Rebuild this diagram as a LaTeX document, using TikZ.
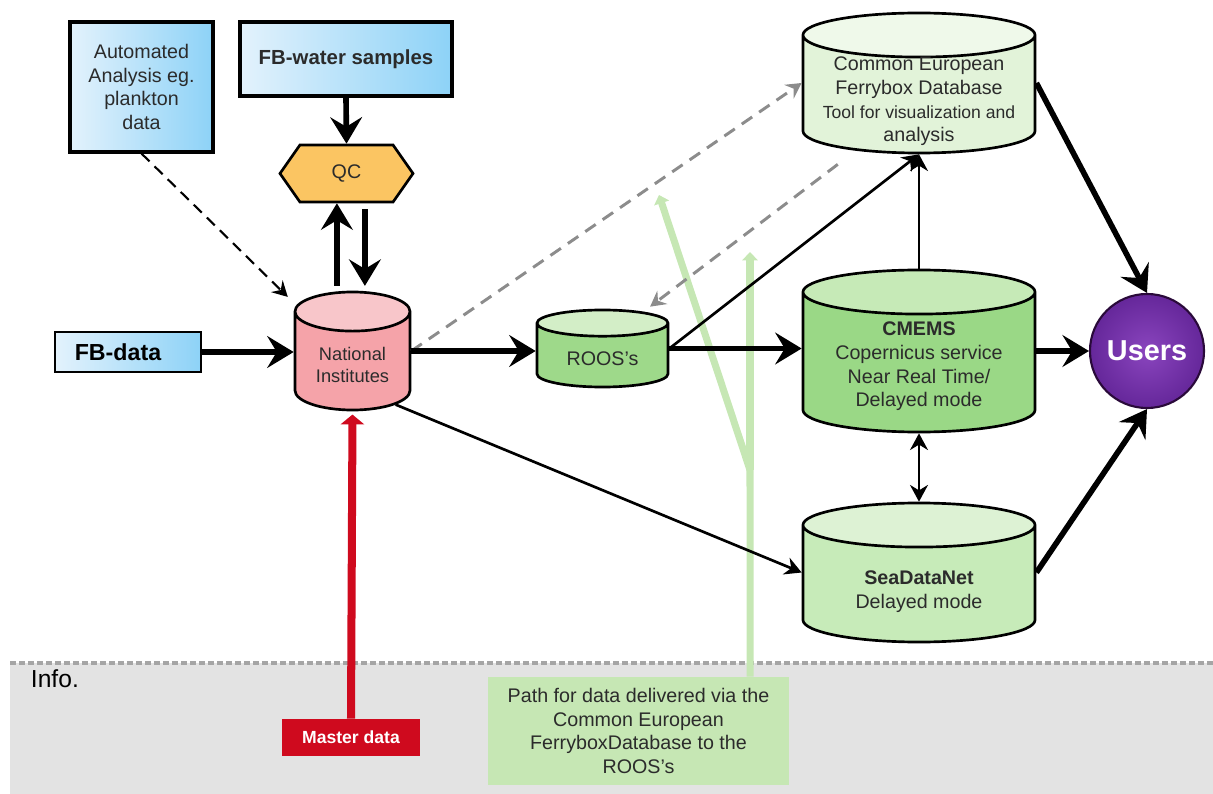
\documentclass[tikz,border=0pt]{standalone}
\usepackage{fontspec}
\setmainfont{Liberation Sans}
\usetikzlibrary{arrows.meta, positioning, shapes.geometric, shapes.symbols}

\definecolor{bluelight}{HTML}{E3F2FC}
\definecolor{bluedark}{HTML}{8DD2F7}
\definecolor{txtgray}{HTML}{2B2B2B}
\definecolor{qcorange}{HTML}{FBC562}
\definecolor{natpink}{HTML}{F5A3A9}
\definecolor{natpinktop}{HTML}{F8C6CA}
\definecolor{roosgreen}{HTML}{9ED98A}
\definecolor{roostop}{HTML}{D3EEC7}
\definecolor{cmemsgreen}{HTML}{9AD886}
\definecolor{cmemstop}{HTML}{C6EAB7}
\definecolor{commongreen}{HTML}{E2F3D9}
\definecolor{commontop}{HTML}{EFF9EA}
\definecolor{sdngreen}{HTML}{C7EBB9}
\definecolor{sdntop}{HTML}{DDF2D4}
\definecolor{userdark}{HTML}{65279A}
\definecolor{userlight}{HTML}{8A45BE}
\definecolor{userborder}{HTML}{2A0A3A}
\definecolor{mastred}{HTML}{CF0A1E}
\definecolor{pathgreen}{HTML}{C6E7B4}
\definecolor{bandgray}{HTML}{E3E3E3}
\definecolor{dotgray}{HTML}{A5A5A5}
\definecolor{dashgray}{HTML}{8C8C8C}

\tikzset{
  fbbox/.style={draw=black, line width=2.2pt, left color=bluelight, right color=bluedark,
    align=center, text=txtgray, inner sep=0pt},
  base/.style={cylinder, shape border rotate=90, draw=black, line width=1.9pt,
    cylinder uses custom fill, anchor=shape center, inner sep=0pt},
  cyltext/.style={align=center, text=txtgray, inner sep=0pt,
    font=\fontsize{14}{16.8}\selectfont},
  bigarrow/.style={line width=4pt, -{Stealth[length=19pt, width=23pt, inset=7pt, line width=0pt]}},
  thinarrow/.style={line width=1.9pt, -{Stealth[length=12pt, width=13pt, inset=4pt, line width=0pt]}},
  thinboth/.style={line width=1.9pt, {Stealth[length=12pt, width=13pt, inset=4pt, line width=0pt]}-{Stealth[length=12pt, width=13pt, inset=4pt, line width=0pt]}},
  greyarrow/.style={draw=dashgray, line width=2.1pt, dash pattern=on 9pt off 6pt,
    -{Stealth[length=11pt, width=12pt, inset=4pt, line width=0pt]}},
  pathline/.style={draw=pathgreen, line width=5pt},
}

\begin{document}
\begin{tikzpicture}[x=0.025cm, y=-0.025cm]
  \useasboundingbox (0,0) rectangle (1213,794);

  % info band
  \fill[bandgray] (10,663) rectangle (1213,794);
  \draw[dotgray, line width=2.8pt, dash pattern=on 4.3pt off 2.1pt] (10,663) -- (1213,663);
  \node[anchor=base west, font=\fontsize{17.5}{20}\selectfont] (info) at (26,687) {Info.};

  % sources
  \node[fbbox, minimum width=3.575cm, minimum height=3.25cm,
    font=\fontsize{14}{16.8}\selectfont] (auto) at (141.5,87)
    {Automated\\Analysis eg.\\plankton\\data};
  \node[fbbox, minimum width=5.3cm, minimum height=1.85cm,
    font=\bfseries\fontsize{14.5}{17}\selectfont] (water) at (346,59) {FB-water samples};
  \node[fbbox, line width=1.5pt, minimum width=3.325cm, minimum height=1cm, text=black,
    font=\bfseries\fontsize{16.5}{19}\selectfont] (fbdata) at (128,352) {\hspace*{0.5cm}FB-data\hspace*{1cm}};
  \node[signal, signal to=east and west, signal pointer angle=110, draw=black, line width=1.9pt,
    fill=qcorange, minimum width=3.325cm, minimum height=1.425cm, inner sep=0pt,
    text=txtgray, font=\fontsize{14}{16}\selectfont] (qc) at (346.5,173.5) {QC};

  % databases
  \node[base, cylinder body fill=natpink, cylinder end fill=natpinktop, aspect=0.34,
    minimum width=2.875cm, minimum height=2.95cm] (nat) at (352.5,351) {\rule{2.875cm}{0pt}};
  \node[cyltext, font=\fontsize{13}{16}\selectfont] (nattext)
    at ([yshift=-0.35cm]nat.shape center) {National\\Institutes};
  \node[base, cylinder body fill=roosgreen, cylinder end fill=roostop, aspect=0.2,
    minimum width=3.275cm, minimum height=1.925cm] (roos) at (602.5,348.5) {\rule{3.275cm}{0pt}};
  \node[cyltext] (roostext) at ([yshift=-0.25cm]roos.shape center) {ROOS’s};
  \node[base, cylinder body fill=cmemsgreen, cylinder end fill=cmemstop, aspect=0.19,
    minimum width=5.8cm, minimum height=4.05cm] (cmems) at (919,351) {\rule{5.8cm}{0pt}};
  \node[cyltext] (cmemstext) at ([yshift=-0.39cm]cmems.shape center)
    {\textbf{CMEMS}\\Copernicus service\\Near Real Time/\\Delayed mode};
  \node[base, cylinder body fill=commongreen, cylinder end fill=commontop, aspect=0.19,
    minimum width=5.8cm, minimum height=3.5cm] (common) at (919,83) {\rule{5.8cm}{0pt}};
  \node[cyltext] (commontext) at ([yshift=-0.46cm]common.shape center)
    {Common European\\Ferrybox Database\\\fontsize{12.5}{14}\selectfont Tool for visualization and\\analysis};
  \node[base, cylinder body fill=sdngreen, cylinder end fill=sdntop, aspect=0.19,
    minimum width=5.8cm, minimum height=3.475cm] (sdn) at (919,572.5) {\rule{5.8cm}{0pt}};
  \node[cyltext] (sdntext) at ([yshift=-0.48cm]sdn.shape center)
    {\textbf{SeaDataNet}\\Delayed mode};

  % users
  \node[circle, draw=userborder, line width=1.5pt, inner color=userlight, outer color=userdark,
    minimum size=2.85cm, text=white, font=\bfseries\fontsize{20.5}{24}\selectfont]
    (users) at (1147,351) {Users};

  % notes in the band
  \node[fill=mastred, minimum width=3.45cm, minimum height=0.925cm, text=white,
    font=\bfseries\fontsize{12.5}{15}\selectfont] (master) at (351,737.5) {Master data};
  \node[fill=pathgreen, minimum width=7.525cm, minimum height=2.7cm, align=center,
    text=txtgray, font=\fontsize{14}{16.8}\selectfont] (pathnote) at (638.5,731)
    {Path for data delivered via the\\Common European\\FerryboxDatabase to the\\ROOS’s};

  % path via the ferrybox database
  \coordinate (fork) at (750,470);
  \coordinate (tipA) at (750,252);
  \coordinate (tipB) at (659,195);
  \draw[pathline] ([xshift=2.79cm]pathnote.north) -- (fork);
  \draw[pathline, -{Triangle[length=6pt, width=11pt]}] (fork) -- (tipA);
  \draw[pathline, -{Triangle[length=6pt, width=11pt]}] (fork) -- (tipB);

  % grey dashed links
  \draw[greyarrow] (nat.east |- nat.shape center) -- (common.west |- common.shape center);
  \draw[greyarrow] ([shift={(-2.03cm,-0.25cm)}]common.south) -- ([shift={(1.19cm,0.05cm)}]roos.north);

  % inputs
  \draw[line width=1.5pt, dash pattern=on 8pt off 5pt,
    -{Stealth[length=11pt, width=12pt, inset=4pt, line width=0pt]}, shorten >=0.3cm]
    (auto.south) -- (nat.north west);
  \draw[bigarrow] (water.south) -- (qc.north);
  \draw[bigarrow, shorten <=0.12cm] ([xshift=-0.24cm]qc.south |- nat.north) -- ([xshift=-0.24cm]qc.south);
  \draw[bigarrow, shorten <=0.15cm, shorten >=0.12cm] ([xshift=0.46cm]qc.south) -- ([xshift=0.46cm]qc.south |- nat.north);
  \draw[bigarrow] (fbdata.east) -- (fbdata.east -| nat.west);
  \draw[mastred, line width=5.7pt, -{Triangle[length=7pt, width=16.5pt]}, shorten >=0.08cm]
    (master.north) -- (nat.south);

  % data flow
  \draw[bigarrow] (nat.east |- nat.shape center) -- (roos.west |- nat.shape center);
  \draw[bigarrow] (roos.east |- roos.shape center) -- (cmems.west |- roos.shape center);
  \draw[thinarrow] (roos.east |- roos.shape center) -- (common.south);
  \draw[thinarrow] (cmems.north) -- (common.south);
  \draw[thinboth] (cmems.south) -- (sdn.north);
  \draw[thinarrow] (nat.south east) -- (sdn.west |- sdn.shape center);

  % to users
  \draw[bigarrow] (cmems.east |- users.west) -- (users.west);
  \draw[bigarrow] (common.east |- common.shape center) -- (users.north);
  \draw[bigarrow] (sdn.east |- sdn.shape center) -- (users.south);
\end{tikzpicture}
\end{document}
